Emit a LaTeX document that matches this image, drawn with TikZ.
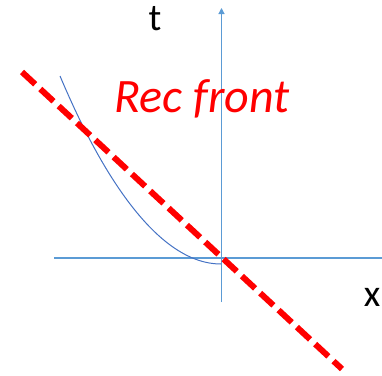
\documentclass[tikz,border=0pt]{standalone}
\usepackage{fontspec}
\setmainfont{Carlito}
\usepackage{xcolor}
\usetikzlibrary{arrows.meta}
\definecolor{AxisBlue}{HTML}{5B9BD5}
\definecolor{CurveBlue}{HTML}{4472C4}
\definecolor{FrontRed}{HTML}{FF0000}

\begin{document}
\begin{tikzpicture}[x=1pt,y=-1pt,
axis/.style={draw=AxisBlue,line width=1.1pt},
curve/.style={draw=CurveBlue,line width=1pt},
front/.style={draw=FrontRed,line width=6pt,dash pattern=on 18pt off 7pt},
lbl/.style={inner sep=0pt,font=\fontsize{38}{40}\selectfont}]
\useasboundingbox (0,0) rectangle (382,375);
% axes
\coordinate (xl) at (54,258); \coordinate (xr) at (382,258);
\coordinate (tb) at (221.5,302); \coordinate (tt) at (221.5,8);
\draw[axis] (xl)--(xr);
\draw[axis,-{Triangle[width=6pt,length=6pt]}] (tb)--(tt);
\node[lbl] (t) at (155,19) {t};
\node[lbl] (x) at (372,297) {x};
% curve
\coordinate (cs) at (60,76); \coordinate (ce) at (221,264);
\draw[curve] (cs) parabola[bend at end] (ce);
% front
\coordinate (fa) at (22,72); \coordinate (fb) at (342,369);
\draw[front] (fa)--(fb);
\node[inner sep=0pt,text=FrontRed,font=\fontsize{48}{50}\selectfont\itshape] (rec) at (202,99) {Rec front};
\end{tikzpicture}
\end{document}
